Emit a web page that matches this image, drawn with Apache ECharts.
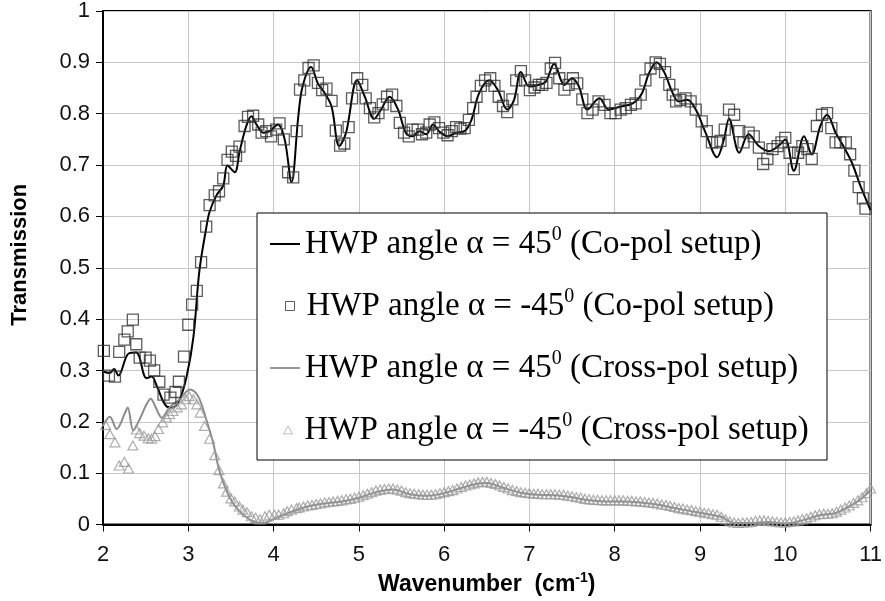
<!DOCTYPE html>
<html>
<head>
<meta charset="utf-8">
<script src="https://cdn.jsdelivr.net/npm/echarts@6/dist/echarts.min.js"></script>
<style>
  html, body { margin: 0; padding: 0; background: #fff; }
  #chart { width: 885px; height: 601px; }
</style>
</head>
<body>
<div id="chart"></div>
<script>
// HWP angle 45, co-pol (solid black line) [wavenumber, transmission]
var coPolLine = [
  [2.00,.298],[2.08,.295],[2.13,.303],[2.18,.290],[2.30,.333],[2.39,.335],[2.51,.285],[2.57,.288],
  [2.63,.270],[2.745,.230],[2.82,.228],[2.90,.244],[2.98,.288],[3.06,.365],[3.13,.494],[3.21,.577],
  [3.25,.609],[3.33,.641],[3.41,.660],[3.46,.699],[3.545,.686],[3.60,.725],[3.68,.776],[3.74,.795],
  [3.80,.779],[3.88,.763],[3.955,.766],[4.05,.779],[4.13,.750],[4.21,.667],[4.29,.795],[4.34,.853],
  [4.44,.891],[4.52,.859],[4.60,.840],[4.68,.814],[4.77,.737],[4.85,.763],[4.98,.865],[5.07,.833],
  [5.18,.790],[5.26,.808],[5.36,.833],[5.46,.808],[5.55,.763],[5.63,.756],[5.71,.766],[5.79,.760],
  [5.87,.779],[5.94,.766],[6.04,.756],[6.14,.763],[6.24,.766],[6.32,.788],[6.41,.840],[6.53,.865],
  [6.63,.846],[6.74,.808],[6.82,.827],[6.90,.881],[7.00,.853],[7.10,.856],[7.19,.862],[7.29,.897],
  [7.41,.856],[7.50,.869],[7.58,.853],[7.68,.808],[7.82,.830],[7.93,.808],[8.07,.814],[8.21,.820],
  [8.32,.840],[8.40,.878],[8.49,.900],[8.58,.881],[8.68,.840],[8.75,.824],[8.85,.827],[8.95,.808],
  [9.065,.763],[9.20,.715],[9.28,.750],[9.34,.790],[9.46,.724],[9.57,.760],[9.69,.737],[9.81,.727],
  [9.92,.737],[10.00,.750],[10.10,.689],[10.22,.756],[10.31,.721],[10.41,.776],[10.49,.798],[10.59,.763],
  [10.68,.737],[10.78,.705],[10.88,.660],[11.00,.612]
]

// HWP angle -45, co-pol (squares)
var coPolSquares = [
  [2.01,.338],[2.07,.290],[2.14,.288],[2.19,.336],[2.25,.360],[2.29,.376],[2.35,.399],[2.39,.351],
  [2.43,.325],[2.50,.325],[2.55,.319],[2.60,.300],[2.66,.278],[2.71,.253],[2.79,.247],[2.85,.258],
  [2.89,.278],[2.95,.327],[3.00,.389],[3.045,.428],[3.10,.455],[3.15,.511],[3.21,.580],[3.25,.622],
  [3.31,.641],[3.36,.649],[3.41,.674],[3.46,.710],[3.51,.726],[3.56,.718],[3.60,.736],[3.66,.776],
  [3.70,.794],[3.76,.796],[3.82,.779],[3.86,.763],[3.915,.766],[3.97,.756],[4.03,.769],[4.07,.781],
  [4.12,.750],[4.17,.686],[4.23,.676],[4.27,.766],[4.31,.847],[4.36,.865],[4.41,.889],[4.47,.894],
  [4.52,.860],[4.57,.846],[4.62,.849],[4.68,.825],[4.73,.767],[4.78,.738],[4.83,.742],[4.88,.774],
  [4.92,.830],[4.98,.869],[5.04,.856],[5.08,.830],[5.13,.811],[5.18,.793],[5.23,.801],[5.28,.818],
  [5.33,.833],[5.39,.837],[5.44,.815],[5.48,.782],[5.53,.763],[5.585,.756],[5.63,.769],[5.69,.769],
  [5.74,.760],[5.79,.763],[5.83,.779],[5.885,.783],[5.94,.772],[5.99,.763],[6.04,.758],[6.09,.766],
  [6.14,.774],[6.19,.771],[6.24,.772],[6.29,.788],[6.34,.811],[6.38,.833],[6.43,.854],[6.48,.865],
  [6.54,.869],[6.59,.854],[6.64,.833],[6.69,.815],[6.74,.803],[6.80,.828],[6.845,.865],[6.90,.883],
  [6.95,.865],[7.005,.846],[7.06,.851],[7.11,.856],[7.15,.856],[7.20,.860],[7.25,.888],[7.30,.899],
  [7.35,.869],[7.41,.847],[7.46,.856],[7.51,.869],[7.56,.859],[7.62,.828],[7.68,.801],[7.74,.808],
  [7.81,.824],[7.88,.817],[7.95,.801],[8.01,.801],[8.07,.808],[8.13,.811],[8.19,.817],[8.245,.820],
  [8.305,.837],[8.36,.865],[8.42,.888],[8.48,.900],[8.53,.897],[8.59,.881],[8.64,.856],[8.68,.837],
  [8.72,.824],[8.77,.827],[8.83,.830],[8.89,.824],[8.95,.808],[9.02,.785],[9.08,.766],[9.14,.744],
  [9.20,.744],[9.24,.747],[9.29,.769],[9.34,.808],[9.40,.798],[9.46,.766],[9.51,.744],[9.57,.763],
  [9.63,.756],[9.69,.734],[9.74,.702],[9.79,.712],[9.85,.731],[9.91,.737],[9.955,.744],[10.00,.753],
  [10.05,.724],[10.10,.692],[10.15,.724],[10.20,.737],[10.26,.731],[10.31,.712],[10.37,.776],[10.43,.798],
  [10.49,.801],[10.54,.772],[10.59,.744],[10.645,.744],[10.71,.744],[10.76,.721],[10.81,.689],[10.86,.657],
  [10.91,.635],[10.94,.615]
]

// HWP angle 45, cross-pol (gray line)
var crossPolLine = [
  [2.00,.192],[2.08,.210],[2.16,.186],[2.26,.218],[2.29,.228],[2.355,.183],[2.43,.205],[2.51,.234],
  [2.56,.245],[2.61,.231],[2.69,.208],[2.78,.228],[2.90,.244],[3.02,.263],[3.115,.250],[3.21,.205],
  [3.29,.160],[3.37,.102],[3.49,.051],[3.60,.026],[3.76,.006],[3.88,.003],[4.03,.013],[4.23,.026],
  [4.40,.035],[4.60,.041],[4.80,.045],[5.00,.052],[5.20,.063],[5.40,.068],[5.60,.059],[5.80,.056],
  [6.00,.061],[6.20,.071],[6.40,.080],[6.50,.081],[6.70,.071],[6.90,.062],[7.10,.058],[7.30,.057],
  [7.50,.053],[7.70,.047],[7.90,.045],[8.10,.045],[8.30,.043],[8.50,.039],[8.70,.032],[8.90,.026],
  [9.10,.020],[9.25,.015],[9.40,.003],[9.60,.003],[9.80,.005],[10.00,.002],[10.20,.008],[10.40,.018],
  [10.60,.023],[10.80,.040],[10.90,.051],[11.00,.068]
]

// HWP angle -45, cross-pol (triangles)
var crossPolTriangles = [
  [2.03,.194],[2.08,.176],[2.14,.160],[2.19,.115],[2.25,.122],[2.30,.109],[2.35,.154],[2.39,.185],
  [2.43,.178],[2.48,.173],[2.53,.168],[2.57,.167],[2.61,.172],[2.65,.186],[2.70,.199],[2.745,.208],
  [2.78,.215],[2.82,.221],[2.87,.228],[2.92,.234],[2.97,.244],[3.01,.250],[3.06,.244],[3.10,.234],
  [3.14,.218],[3.19,.192],[3.25,.167],[3.31,.135],[3.36,.106],[3.41,.080],[3.45,.064],[3.50,.051],
  [3.545,.045],[3.60,.035],[3.64,.029],[3.69,.024],[3.74,.016],[3.79,.013],[3.84,.010],[3.90,.016],
  [3.95,.019],[4.01,.019],[4.06,.019],[4.12,.022],[4.16,.026],[4.21,.029],[4.27,.032],
  [4.30,.033],[4.35,.035],[4.40,.037],[4.45,.038],[4.50,.040],[4.55,.041],[4.60,.043],[4.65,.044],
  [4.70,.045],[4.75,.046],[4.80,.047],[4.85,.049],[4.90,.050],[4.95,.052],[5.00,.054],[5.05,.057],
  [5.10,.060],[5.15,.063],[5.20,.066],[5.25,.068],[5.30,.069],[5.35,.070],[5.40,.070],[5.45,.068],
  [5.50,.066],[5.55,.063],[5.60,.061],[5.65,.060],[5.70,.059],[5.75,.058],[5.80,.058],[5.85,.058],
  [5.90,.059],[5.95,.061],[6.00,.063],[6.05,.065],[6.10,.067],[6.15,.070],[6.20,.073],[6.25,.076],
  [6.30,.078],[6.35,.080],[6.40,.082],[6.45,.083],[6.50,.083],[6.55,.081],[6.60,.079],[6.65,.076],
  [6.70,.073],[6.75,.070],[6.80,.067],[6.85,.065],[6.90,.063],[6.95,.062],[7.00,.061],[7.05,.060],
  [7.10,.060],[7.15,.059],[7.20,.059],[7.25,.059],[7.30,.059],[7.35,.058],[7.40,.058],[7.45,.056],
  [7.50,.055],[7.55,.053],[7.60,.052],[7.65,.050],[7.70,.049],[7.75,.048],[7.80,.048],[7.85,.047],
  [7.90,.047],[7.95,.047],[8.00,.047],[8.05,.047],[8.10,.047],[8.15,.046],[8.20,.046],[8.25,.045],
  [8.30,.045],[8.35,.044],[8.40,.043],[8.45,.042],[8.50,.041],[8.55,.039],[8.60,.038],[8.65,.036],
  [8.70,.034],[8.75,.032],[8.80,.031],[8.85,.029],[8.90,.028],[8.95,.026],[9.00,.025],[9.05,.023],
  [9.10,.022],[9.15,.020],[9.20,.019],[9.25,.015],[9.30,.010],[9.35,.006],[9.40,.004],[9.45,.003],
  [9.50,.004],[9.55,.004],[9.60,.005],[9.65,.007],[9.70,.008],[9.75,.008],[9.80,.007],[9.85,.006],
  [9.90,.005],[9.95,.004],[10.00,.004],[10.05,.005],[10.10,.006],[10.15,.008],[10.20,.010],[10.25,.012],
  [10.30,.015],[10.35,.018],[10.40,.020],[10.45,.021],[10.50,.021],[10.55,.022],[10.60,.025],[10.65,.029],
  [10.70,.033],[10.75,.037],[10.80,.042],[10.85,.047],[10.90,.053],[10.95,.061],[11.00,.070]
]

// legend text: [before superscript, superscript, after]
var seriesNames = ['coPol45', 'coPolMinus45', 'crossPol45', 'crossPolMinus45']
var legendTexts = [
  ['HWP angle α = 45', '0', ' (Co-pol setup)'],
  ['HWP angle α = -45', '0', ' (Co-pol setup)'],
  ['HWP angle α = 45', '0', ' (Cross-pol setup)'],
  ['HWP angle α = -45', '0', ' (Cross-pol setup)']
]

var chart = echarts.init(document.getElementById('chart'))

var serif = '"Liberation Serif", "Times New Roman", serif'
var sans = '"Liberation Sans", Arial, sans-serif'
var legendRich = {
  g: { width: 7 },
  t: { fontFamily: serif, fontSize: 33, color: '#000', lineHeight: 38 },
  s: { fontFamily: serif, fontSize: 20, color: '#000', verticalAlign: 'top', lineHeight: 38, padding: [0, 0, 12, 0] }
}

function legendFormatter(name) {
  var i = seriesNames.indexOf(name)
  var t = legendTexts[i]
  var pad = (i === 1 || i === 3) ? '{g| }' : ''
  return pad + '{t|' + t[0] + '}{s|' + t[1] + '}{t|' + t[2] + '}'
}

function makeLegend(i, left, top, w, h, icon, style) {
  return {
    data: [{ name: seriesNames[i], icon: icon, itemStyle: style }],
    left: left,
    top: top,
    padding: 0,
    itemWidth: w,
    itemHeight: h,
    selectedMode: false,
    formatter: legendFormatter,
    textStyle: { rich: legendRich }
  }
}

chart.setOption({
  animation: false,
  grid: {
    left: 103,
    right: 13,
    top: 10,
    bottom: 71,
    show: true,
    borderColor: '#000',
    borderWidth: 2
  },
  graphic: [{
    type: 'rect',
    z: 3,
    shape: { x: 257, y: 213, width: 570, height: 247 },
    style: { fill: '#fff', stroke: '#000', lineWidth: 1 }
  }],
  legend: [
    makeLegend(0, 270, 225, 30, 2, 'rect', { color: '#000' }),
    makeLegend(1, 285, 287, 9, 9, 'rect', { color: 'transparent', borderColor: '#333', borderWidth: 1 }),
    makeLegend(2, 270, 349, 30, 2, 'rect', { color: '#999' }),
    makeLegend(3, 283, 411, 9, 8, 'triangle', { color: 'transparent', borderColor: '#aaa', borderWidth: 1 })
  ],
  xAxis: {
    type: 'value',
    min: 2,
    max: 11,
    interval: 1,
    name: '{b|Wavenumber  (cm}{sup|-1}{b|)}',
    nameLocation: 'middle',
    nameGap: 47,
    nameTextStyle: {
      rich: {
        b: { fontFamily: sans, fontWeight: 'bold', fontSize: 23, color: '#000', lineHeight: 26 },
        sup: { fontFamily: sans, fontWeight: 'bold', fontSize: 14, color: '#000', verticalAlign: 'top', lineHeight: 26 }
      }
    },
    axisLine: { lineStyle: { color: '#000', width: 2 } },
    axisTick: { show: true, length: 7, lineStyle: { color: '#000', width: 1 } },
    axisLabel: { margin: 19, fontFamily: sans, fontSize: 22, color: '#111' },
    splitLine: { show: true, lineStyle: { color: '#c8c8c8', width: 1 } }
  },
  yAxis: {
    type: 'value',
    min: 0,
    max: 1,
    interval: 0.1,
    name: 'Transmission',
    nameLocation: 'middle',
    nameGap: 72,
    nameTextStyle: { fontFamily: sans, fontWeight: 'bold', fontSize: 22, color: '#000', padding: [0, 0, 0, 26] },
    axisLine: { show: true, lineStyle: { color: '#000', width: 2 } },
    axisTick: { show: true, length: 7, lineStyle: { color: '#000', width: 1 } },
    axisLabel: { margin: 13, fontFamily: sans, fontSize: 22, color: '#111' },
    splitLine: { show: true, lineStyle: { color: '#c8c8c8', width: 1 } }
  },
  series: [
    {
      name: seriesNames[0],
      type: 'line',
      data: coPolLine,
      smooth: 0.35,
      showSymbol: false,
      lineStyle: { color: '#000', width: 2 },
      itemStyle: { color: '#000' },
      z: 2
    },
    {
      name: seriesNames[1],
      type: 'scatter',
      data: coPolSquares,
      symbol: 'rect',
      symbolSize: 11,
      itemStyle: { color: 'transparent', borderColor: '#333', borderWidth: 1.3 },
      z: 2
    },
    {
      name: seriesNames[2],
      type: 'line',
      data: crossPolLine,
      smooth: 0.35,
      showSymbol: false,
      lineStyle: { color: '#8c8c8c', width: 2 },
      itemStyle: { color: '#8c8c8c' },
      z: 2
    },
    {
      name: seriesNames[3],
      type: 'scatter',
      data: crossPolTriangles,
      symbol: 'triangle',
      symbolSize: [10, 9],
      itemStyle: { color: 'transparent', borderColor: '#9a9a9a', borderWidth: 1.2 },
      z: 2
    }
  ]
})
</script>
</body>
</html>
